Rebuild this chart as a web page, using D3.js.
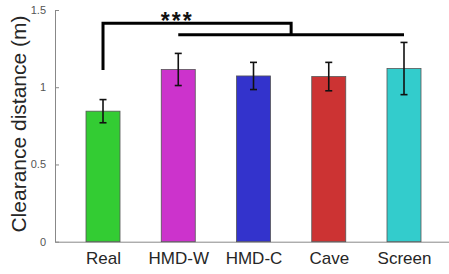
<!DOCTYPE html>
<html>
<head>
<meta charset="utf-8">
<script src="https://cdn.jsdelivr.net/npm/d3@7"></script>
<style>
  html, body { margin: 0; padding: 0; background: #fff; }
  svg { display: block; font-family: "Liberation Sans", Arial, sans-serif; }
</style>
</head>
<body>
<div id="chart"></div>
<script>
const categories = ["Real", "HMD-W", "HMD-C", "Cave", "Screen"];
const means = [0.845, 1.115, 1.073, 1.069, 1.121];
const errors = [0.075, 0.104, 0.088, 0.092, 0.169];
const colors = ["#33cc33", "#cc33cc", "#3333cc", "#cc3333", "#33cccc"];
const yTicks = [0, 0.5, 1, 1.5];
const yTickLabels = ["0", "0.5", "1", "1.5"];

const width = 449, height = 274;
const svg = d3.select("#chart").append("svg")
    .attr("width", width)
    .attr("height", height);

const x = d3.scaleLinear().domain([0.362, 5.598]).range([55, 449]);
const y = d3.scaleLinear().domain([0, 1.5]).range([241.7, 10]);
const barW = 34;

// axes
const yAxis = d3.axisLeft(y).tickValues(yTicks)
    .tickFormat((d, i) => yTickLabels[i])
    .tickSizeInner(-4).tickSizeOuter(0).tickPadding(9);
const gy = svg.append("g").attr("transform", "translate(55,0)").call(yAxis);
gy.select(".domain").attr("stroke", "#888");
gy.selectAll(".tick line").attr("stroke", "#888");
gy.selectAll(".tick text").attr("fill", "#555").attr("font-size", 11);

const xAxis = d3.axisBottom(x).tickValues(d3.range(1, 6))
    .tickFormat((d) => categories[d - 1])
    .tickSize(0).tickPadding(10);
const gx = svg.append("g").attr("transform", `translate(0,${y(0)})`).call(xAxis);
gx.select(".domain").attr("stroke", "#888");
gx.selectAll(".tick text").attr("fill", "#262626").attr("font-size", 17)
    .attr("dy", "0.75em");

// bars
svg.append("g").selectAll("rect")
    .data(means)
    .join("rect")
    .attr("x", (d, i) => x(i + 1) - barW / 2)
    .attr("y", d => y(d))
    .attr("width", barW)
    .attr("height", d => y(0) - y(d))
    .attr("fill", (d, i) => colors[i])
    .attr("stroke", "#555")
    .attr("stroke-width", 0.8);

// error bars
const eg = svg.append("g").attr("stroke", "#111").attr("stroke-width", 1.6);
means.forEach((m, i) => {
    const cx = x(i + 1);
    eg.append("line").attr("x1", cx).attr("x2", cx)
        .attr("y1", y(m + errors[i])).attr("y2", y(m - errors[i]));
    [m + errors[i], m - errors[i]].forEach(v => {
        eg.append("line").attr("x1", cx - 3.5).attr("x2", cx + 3.5)
            .attr("y1", y(v)).attr("y2", y(v));
    });
});

// significance bracket
const bTop = 1.415, bLow = 1.34, bStart = 1.112;
const mid = (x(2) + x(5)) / 2;
const bg = svg.append("g").attr("fill", "none").attr("stroke", "#000").attr("stroke-width", 3);
bg.append("path").attr("d",
    `M${x(1)},${y(bStart)}V${y(bTop)}H${mid}V${y(bLow)}`);
bg.append("path").attr("d", `M${x(2)},${y(bLow)}H${x(5)}`);
svg.append("text").attr("x", x(2) - 1).attr("y", 29)
    .attr("text-anchor", "middle").attr("font-size", 23)
    .attr("font-weight", "bold")
    .attr("letter-spacing", 2)
    .attr("fill", "#111").text("***");

// y label
svg.append("text")
    .attr("transform", `translate(26,124) rotate(-90)`)
    .attr("text-anchor", "middle")
    .attr("font-size", 21)
    .attr("fill", "#262626")
    .text("Clearance distance (m)");
</script>
</body>
</html>
